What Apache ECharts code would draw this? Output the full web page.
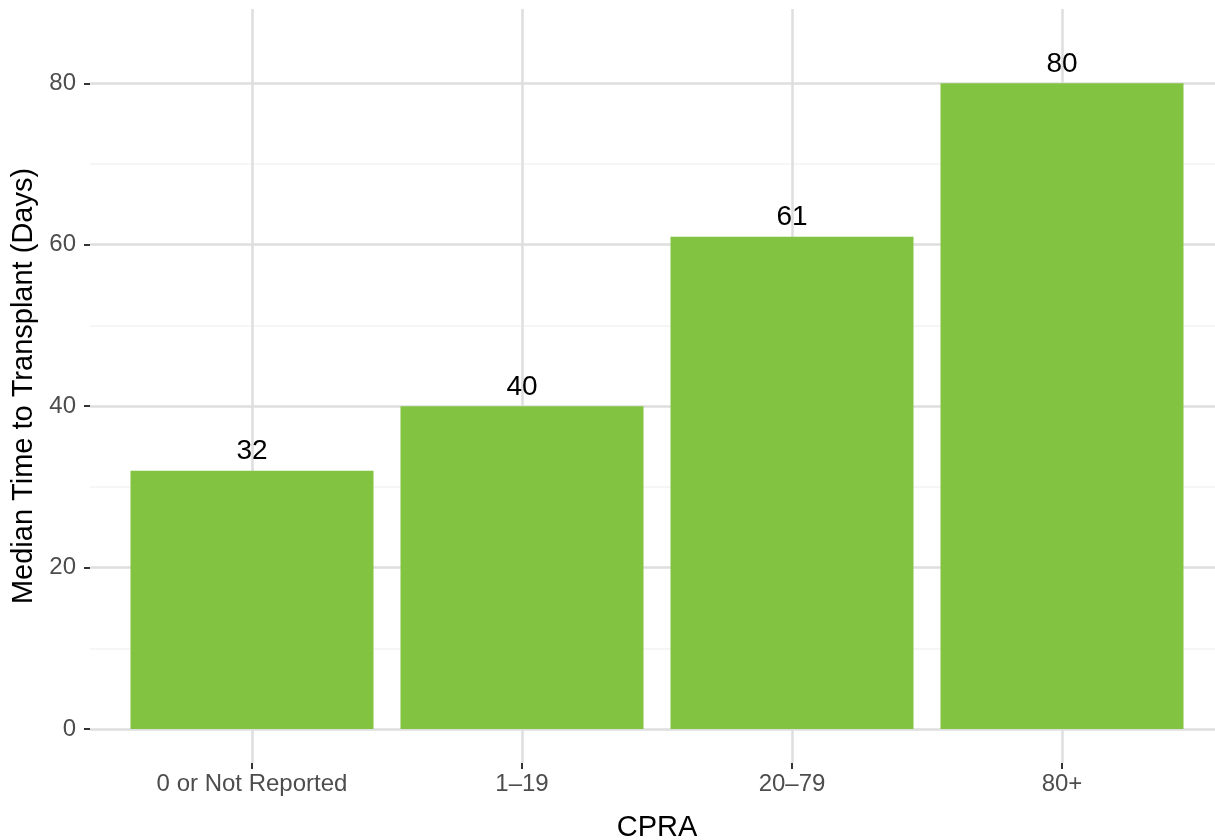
<!DOCTYPE html>
<html>
<head>
<meta charset="utf-8">
<script src="https://cdn.jsdelivr.net/npm/echarts@6/dist/echarts.min.js"></script>
<style>
html,body{margin:0;padding:0;background:#fff;}
#chart{width:1215px;height:840px;}
</style>
</head>
<body>
<div id="chart"></div>
<script>
const categories = ['0 or Not Reported', '1\u201319', '20\u201379', '80+'];
const medianDays = [32, 40, 61, 80];
const yTicks = [0, 20, 40, 60, 80];
const yMinorTicks = [10, 30, 50, 70];

const FONT = '"Liberation Sans", Arial, Helvetica, sans-serif';
const yMin = -4.21, yMax = 89.2;

const chart = echarts.init(document.getElementById('chart'), null, {renderer: 'canvas'});
chart.setOption({
  backgroundColor: '#ffffff',
  animation: false,
  grid: [
    {left: 90, top: 9, width: 1133, height: 754, containLabel: false, outerBoundsMode: 'none'},
    {left: 252, top: 9, width: 810, height: 754, containLabel: false, outerBoundsMode: 'none'}
  ],
  xAxis: [
    {gridIndex: 0, type: 'value', min: 0, max: 1, show: false},
    {
      gridIndex: 1, type: 'category', data: categories, boundaryGap: false,
      axisLine: {show: false, onZero: false},
      axisTick: {show: true, length: 6, inside: false, lineStyle: {color: '#333333', width: 2}},
      axisLabel: {interval: 0, margin: 9, color: '#4d4d4d', fontSize: 24, fontFamily: FONT},
      splitLine: {show: true, lineStyle: {color: '#dedede', width: 2.5}},
      name: 'CPRA', nameLocation: 'middle', nameGap: 50,
      nameTextStyle: {color: '#000000', fontSize: 29, fontFamily: FONT}
    }
  ],
  yAxis: [
    {
      gridIndex: 0, type: 'value', min: yMin, max: yMax, z: 1,
      axisLine: {show: false, onZero: false},
      axisTick: {show: true, length: 6, customValues: yTicks, lineStyle: {color: '#333333', width: 2}},
      axisLabel: {customValues: yTicks, margin: 14, color: '#4d4d4d', fontSize: 24, fontFamily: FONT},
      splitLine: {show: true, lineStyle: {color: '#dedede', width: 2.5}},
      name: 'Median Time to Transplant (Days)', nameLocation: 'middle', nameGap: 52,
      nameTextStyle: {color: '#000000', fontSize: 29, fontFamily: FONT}
    },
    {
      gridIndex: 0, type: 'value', min: yMin, max: yMax, z: 0,
      axisLine: {show: false, onZero: false},
      axisTick: {show: false, customValues: yMinorTicks},
      axisLabel: {show: false, customValues: yMinorTicks},
      splitLine: {show: true, lineStyle: {color: '#f3f3f3', width: 1.5}}
    },
    {
      gridIndex: 1, type: 'value', min: yMin, max: yMax, show: false,
      axisLine: {onZero: false},
      splitLine: {show: false}
    }
  ],
  series: [{
    type: 'bar',
    xAxisIndex: 1, yAxisIndex: 2,
    data: medianDays,
    barWidth: '90%',
    clip: false,
    itemStyle: {color: '#82c341'},
    label: {
      show: true, position: 'top', distance: 5,
      color: '#000000', fontSize: 28, fontFamily: FONT
    }
  }]
});
</script>
</body>
</html>
